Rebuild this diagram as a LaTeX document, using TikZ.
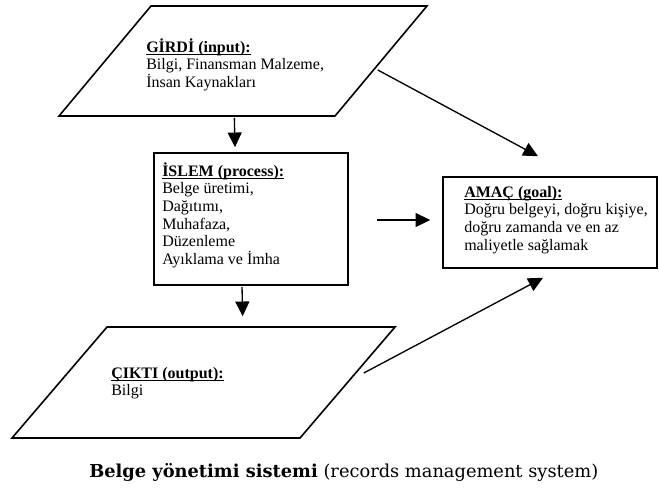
\documentclass[tikz,border=0pt]{standalone}
\usepackage{fontspec}
\setmainfont{Liberation Serif}
\newfontfamily\capfont{DejaVu Serif}
\usetikzlibrary{arrows.meta,calc}
\newcommand\ulbf[1]{\begingroup\setbox0=\hbox{\bfseries #1}\rlap{\rule[-2.2pt]{\wd0}{0.9pt}}\box0\endgroup}
\begin{document}
\begin{tikzpicture}[x=0.75pt,y=-0.75pt,
  shapebox/.style={draw=black, line width=1.2pt, inner sep=0pt},
  txt/.style={anchor=north west, inner sep=0pt, align=left, font=\fontsize{12}{13.2}\selectfont},
  arr/.style={line width=1pt, -{Triangle[length=11pt,width=10.5pt]}}]
\useasboundingbox (0,0) rectangle (659,489);
% shapes
\node[shapebox, xslant=0.836, transform shape, minimum width=207pt, minimum height=82.5pt] (girdi) at (243,61) {};
\node[shapebox, minimum width=145.5pt, minimum height=99pt] (islem) at (251,219) {};
\node[shapebox, minimum width=160.5pt, minimum height=68.25pt] (amac) at (550,222.5) {};
\node[shapebox, xslant=0.856, transform shape, minimum width=216pt, minimum height=83.25pt] (cikti) at (203.5,382.5) {};
% texts
\node[txt] (girdiT) at (146,37.3) {\rule{0pt}{11pt}\ulbf{GİRDİ (input):}\\Bilgi, Finansman Malzeme,\\İnsan Kaynakları};
\node[txt] (islemT) at (162,161.3) {\rule{0pt}{11pt}\ulbf{İSLEM (process):}\\Belge üretimi,\\Dağıtımı,\\Muhafaza,\\Düzenleme\\Ayıklama ve İmha};
\node[txt] (amacT) at (464,182.3) {\rule{0pt}{11pt}\ulbf{AMAÇ (goal):}\\Doğru belgeyi, doğru kişiye,\\doğru zamanda ve en az\\maliyetle sağlamak};
\node[txt] (ciktiT) at (111,363.3) {\rule{0pt}{11pt}\ulbf{ÇIKTI (output):}\\Bilgi};
% caption
\node[anchor=base west, inner sep=0pt] (cap) at (89,477) {\resizebox{381.75pt}{!}{\capfont\fontsize{13}{15}\selectfont\textbf{Belge yönetimi sistemi} (records management system)}};
% arrows
\draw[arr] ($(girdi.south)+(38,1)$) -- ($(islem.north)+(-16,-5)$);
\draw[arr] ($(islem.south)+(-9,1)$) -- ($(cikti.north)+(-9,-10)$);
\draw[arr] ($(islem.east)+(28,1)$) -- ($(amac.west)+(-12,-2.5)$);
\draw[arr] ($(girdi.east)+(-4,9)$) -- ($(amac.north)+(-12,-20)$);
\draw[arr] ($(cikti.east)+(15.5,-9.5)$) -- ($(amac.south)+(-7,9)$);
\end{tikzpicture}
\end{document}
